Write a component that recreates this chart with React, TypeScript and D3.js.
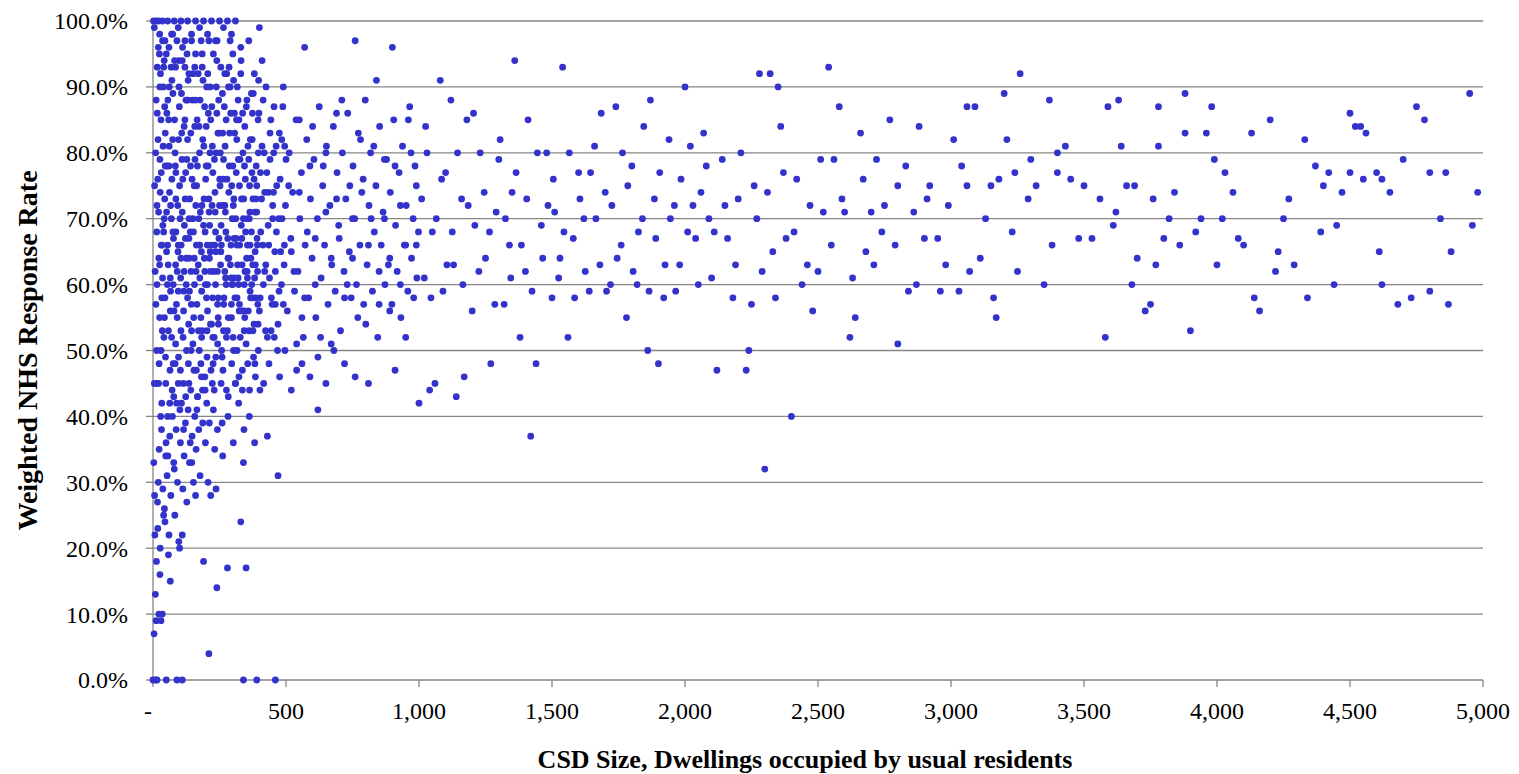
import * as d3 from "d3";

// x = dwellings, y = response rate (%)
const sparsePoints = `4130,83 4200,85 4270,73 4330,82 4370,78 4400,75 4420,77 4450,69 4500,86 4520,84 4540,84 4560,83 4600,77 4620,76 4700,79 4750,87 4780,85 4800,77 4860,77 4950,89 4980,74 4960,69 4880,65 4870,57 4800,59 4730,58 4680,57 4620,60 4610,65 4550,76 4500,77 4440,60 4390,68 4340,58 4290,63 4230,65 4220,62 4160,56 4140,58 4100,66 4080,67 4060,74 4020,70 4000,63 3990,79 3980,87 3960,83 3940,70 3900,53 3880,83 3880,89 3860,66 3820,70 3800,67 3780,81 3780,87 3760,73 3750,57 3730,56 3700,64 3680,60 3660,75 3640,81 3630,88 3620,71 3590,87 3580,52 3560,73 3500,75 3480,67 3430,81 3400,80 3400,77 3380,66 3370,88 3320,75 3300,79 3260,92 3250,62 3240,77 3210,82 3200,89 3180,76 3170,55 3160,58 3130,70 3110,64 3090,87 3060,87 3060,75 3040,78 3030,59 3010,82 2980,63 2960,59 2920,75 2900,67 2880,84 2860,71 2840,59 2800,51 2800,75 2770,85 2740,68 2720,79 2700,71 2680,65 2660,83 2640,55 2620,52 2600,71 2580,87 2560,79 2540,93 2520,71 2500,62 2480,56 2460,63 2420,76 2400,40 2380,67 2360,84 2350,90 2340,58 2320,92 2300,32 2290,62 2280,92 2260,75 2240,50 2230,47 2200,73 2180,58 2160,67 2140,79 2120,47 2100,61 2090,70 2080,78 2060,74 2040,67 2020,81 2000,90 1980,63 1960,72 1940,82 1920,58 1900,48 1890,67 1870,88 1860,50 1840,70 1820,60 1800,78 1780,55 1760,66 1740,87 1720,60 1700,74 1680,63 1660,81 1640,59 1620,70 1600,77 1580,67 1560,52 1540,93 1530,64 1510,71 1500,58 1480,80 1460,69 1440,48 1420,37 1410,85 1400,62 1380,52 1360,94 1350,74 1340,66 1320,57 1300,79 1290,71 1270,48 1250,64 1230,80 1210,69 1200,56 1180,85 1170,46 1160,73 1140,43 1130,63 1120,88 1100,77 1090,59 1080,91 1060,45 1050,68 1040,44 1030,80 1020,61 1000,42 990,75 980,58 960,85 950,66 930,72 910,47 900,96 890,56 870,79 850,62 840,91 820,70 810,45 800,54 780,82 760,97 750,64 740,75 720,58 700,67 690,86 670,51 650,71 640,78 620,41 610,60 600,84 580,68 570,96 560,55 550,74 540,47 520,65 500,79 490,90 470,31 460,57 450,70 440,83 430,37 420,62 410,94 400,99 390,75 380,54 370,68 350,17 340,33 330,24 320,88 310,45 300,60 290,97 280,17 270,72 260,39 250,83 240,14 230,52 220,66 210,4 200,78 190,18 180,48 170,92 160,28 150,70 140,36 130,58 120,85 110,22 100,75 95,45 90,97 85,63 80,32 75,89 70,52 65,15 60,78 55,40 50,95 45,24 40,68 35,10 30,85 25,55 20,30 15,72 10,100 5,45`;

const densePoints = `12,88 18,76 22,64 28,92 33,58 38,81 42,70 47,49 52,86 57,63 62,74 68,93 72,44 77,67 83,80 88,57 93,72 98,90 104,61 108,83 113,52 118,69 123,77 128,95 133,48 138,73 143,62 148,88 153,55 158,79 163,66 168,43 173,84 178,71 183,59 188,91 193,64 198,76 203,53 208,86 213,69 218,47 223,81 228,62 233,74 238,90 243,57 248,67 253,80 258,50 263,72 268,87 273,61 278,76 283,55 288,83 293,66 298,70 303,91 308,58 313,77 318,63 323,85 328,52 333,73 338,80 343,60 348,68 353,88 358,56 363,75 368,64 373,82 378,49 383,71 388,78 393,62 398,86 403,58 408,73 413,66 418,80 423,53 428,77 433,69 438,61 443,85 448,57 453,74 458,65 463,81 468,50 473,70 478,76 483,60 488,87 493,63 498,72 505,56 512,80 518,67 525,74 532,59 538,85 545,62 552,70 558,77 565,52 572,66 578,82 585,58 592,73 598,64 605,79 612,55 618,70 625,87 632,61 638,75 645,66 652,81 658,57 665,72 672,63 678,84 685,59 692,77 698,69 705,53 712,80 718,62 725,73 732,86 738,65 745,58 752,78 758,70 765,60 772,83 778,66 785,74 792,57 798,88 805,63 812,72 818,80 825,59 832,68 838,75 845,52 852,84 858,66 865,71 872,60 878,79 885,63 892,74 898,57 905,85 912,69 918,62 925,77 932,55 938,81 945,66 952,72 958,59 965,87 972,64 978,70 985,78 992,61 998,68 8,62 14,50 19,82 24,95 29,40 34,66 39,90 44,73 49,36 54,60 59,85 64,47 69,70 74,98 79,56 84,78 89,42 94,65 99,87 105,53 110,71 115,38 120,93 125,64 130,82 135,45 140,68 145,97 150,51 155,75 160,88 165,41 170,63 175,80 180,55 185,95 190,69 195,46 200,84 205,60 210,73 215,90 220,54 225,77 230,44 235,68 240,86 245,58 250,72 255,93 260,49 265,79 270,62 275,85 280,53 285,74 290,90 295,57 300,78 305,67 310,45 315,82 320,61 325,75 330,92 335,56 340,70 345,84 350,51 355,66 360,79 365,59 370,89 375,63 380,76 385,46 390,71 395,85 400,56 405,68 410,81 415,60 420,74 425,90 430,52 435,66 440,79 445,58 450,72 455,87 460,62 465,75 470,54 475,83 480,65 485,70 490,57 495,81 6,75 11,57 16,93 21,45 26,79 31,66 36,97 41,52 46,83 51,71 56,34 61,90 66,59 71,76 76,48 81,94 86,68 91,55 96,82 101,41 106,66 111,96 116,59 121,73 126,50 131,88 136,64 141,78 146,33 151,92 156,60 161,72 166,85 171,53 176,66 181,97 186,44 191,81 196,68 201,58 206,92 211,71 216,62 221,87 226,48 231,79 236,65 241,97 246,54 251,76 256,69 261,89 266,57 271,81 276,44 281,67 286,93 291,63 296,75 301,52 306,86 311,70 316,58 321,79 326,66 331,94 336,47 341,73 346,62 351,87 356,70 361,53 366,82 371,60 376,73 381,92 386,58 391,67 396,80 3,33 7,22 13,18 17,27 23,35 27,20 32,38 37,29 43,26 48,34 53,31 58,19 63,37 67,28 73,40 78,33 82,25 87,38 92,30 97,21 103,36 107,42 112,29 117,34 122,39 127,27 132,41 137,33 142,44 147,37 152,30 157,40 162,35 167,43 172,38 177,31 182,46 187,39 197,36 202,42 207,30 212,39 217,28 227,41 232,35 237,29 242,38 262,34 282,40 302,36 322,42 342,38 362,40 382,36 402,44 2,100 20,100 35,100 55,100 80,100 105,100 130,100 160,100 190,100 220,100 250,100 280,100 310,100 5,99 25,98 45,97 70,98 95,99 120,97 145,98 175,99 205,98 235,97 265,99 295,98 0,0 10,0 15,0 50,0 90,0 110,0 340,0 390,0 460,0 4,7 9,13 12,9 22,10 30,9 6,28 18,23 26,16 40,25 60,22 100,20`;

const extraPoints = `14,68 27,74 36,61 44,87 53,78 65,56 74,82 86,73 95,66 109,79 117,62 124,88 136,70 144,57 157,84 164,75 176,61 184,72 194,87 204,66 214,80 224,58 234,71 244,83 254,63 264,76 274,68 284,90 294,61 304,73 314,85 324,56 334,67 344,78 354,62 364,71 374,86 384,65 394,57 404,77 414,88 424,63 434,74 444,53 454,80 464,68 474,59 484,82 494,66 510,75 530,62 550,85 570,58 590,78 610,67 630,52 650,80 670,64 690,73 710,88 730,60 750,70 770,55 790,76 810,66 830,81 850,57 870,70 890,64 910,78 930,60 950,52 970,80 990,66 1010,73 1025,84 1045,58 1065,70 1085,76 1105,63 1125,68 1145,80 1165,60 1185,72 1205,86 1225,62 1245,74 1265,68 1285,57 1305,82 1325,70 1345,61 1365,77 1385,66 1405,73 1425,59 1445,80 1465,64 1485,72 1505,76 1525,61 1545,68 1565,80 1585,58 1605,73 1625,62 1645,77 1665,70 1685,86 1705,59 1725,72 1745,64 1765,80 1785,75 1805,62 1825,68 1845,84 1865,59 1885,73 1905,77 1925,63 1945,70 1965,59 1985,76 2010,68 2030,72 2050,60 2070,83 2110,68 2150,72 2190,63 2210,80 2250,57 2270,70 2310,74 2330,65 2370,77 2410,68 2440,60 2470,72 2510,79 2550,66 2590,73 2630,61 2670,76 2710,63 2750,72 2790,66 2830,78 2870,60 2910,73 2950,67 2990,72 3070,62 3150,75 3230,68 3290,73 3350,60 3450,76 3530,67 3610,69 3690,75 3770,63 3840,74 3920,68 4030,77 4250,70 4470,74 4650,74 4840,70 30,50 48,45 58,53 78,43 96,49 114,45 134,54 154,47 174,50 196,44 216,54 236,49 256,45 276,52 296,48 316,50 336,44 356,48 376,53 396,50 416,45 436,48 456,52 476,46 496,50 520,44 540,51 560,48 590,46 620,49 650,45 680,50 720,48 760,46`;

const corePoints = `10,80 16,86 21,71 26,90 31,77 37,69 42,94 46,78 51,65 56,88 61,81 66,72 71,91 76,60 81,85 86,77 91,62 97,94 102,70 107,89 112,76 117,84 122,67 127,79 132,91 137,59 142,83 147,76 152,68 157,93 162,62 167,78 172,70 177,88 182,65 187,82 192,73 197,60 202,90 207,78 212,64 217,85 222,72 227,95 232,66 237,80 242,62 247,88 252,75 257,66 262,83 267,58 272,71 277,92 282,64 287,78 292,86 297,60 302,72 307,83 312,67 317,90 322,60 327,79 332,69 337,86 342,56 347,76 352,64 357,81 362,70 367,58 372,77 377,89 382,61 387,73 392,66 397,91 15,60 25,63 35,53 45,58 55,66 65,61 75,68 85,51 95,59 105,64 115,56 125,60 135,67 145,53 155,64 165,57 175,66 185,53 195,62 205,56 215,65 225,52 235,60 245,55 255,65 265,53 275,60 285,64 295,55 305,61 315,66 325,57 335,63 345,55 355,61 365,66 375,58 385,63 395,54 13,45 23,48 33,42 43,55 63,42 83,48 103,47 123,43 143,50 163,47 183,52 203,49 223,45 243,51 263,47 283,43 303,50 323,46 343,53 363,44 383,48 20,96 40,93 60,96 85,93 110,94 135,92 160,95 185,93 210,97 240,94 270,92 300,95 330,96 360,97`;

function parse(s: string) {
  return s.trim().split(/\s+/).map((p) => {
    const [x, y] = p.split(",").map(Number);
    return { x, y: y / 100 };
  });
}

const points = [...parse(sparsePoints), ...parse(densePoints), ...parse(extraPoints), ...parse(corePoints)];
const xTicks = [0, 500, 1000, 1500, 2000, 2500, 3000, 3500, 4000, 4500, 5000];
const yTicks = d3.range(0, 11).map((i) => i / 10);

export default function App() {
  const width = 1519;
  const height = 774;
  const left = 153, right = 1483, top = 21, bottom = 680;
  const x = d3.scaleLinear().domain([0, 5000]).range([left, right]);
  const y = d3.scaleLinear().domain([0, 1]).range([bottom, top]);
  const font = "'Times New Roman', 'Liberation Serif', serif";
  const xFmt = (v: number) => (v === 0 ? "-" : d3.format(",")(v));
  const grey = "#868686";

  return (
    <svg width={width} height={height} style={{ position: "absolute", left: 0, top: 0 }} fontFamily={font}>
      {yTicks.map((t) => (
        <g key={t}>
          {t > 0 && <line x1={left} x2={right} y1={y(t)} y2={y(t)} stroke={grey} strokeWidth={1.3} />}
          <line x1={left - 7} x2={left} y1={y(t)} y2={y(t)} stroke={grey} strokeWidth={1.3} />
          <text x={left - 25} y={y(t)} dy="0.35em" textAnchor="end" fontSize={24}>
            {d3.format(".1%")(t)}
          </text>
        </g>
      ))}
      <line x1={left} x2={left} y1={top} y2={bottom} stroke={grey} strokeWidth={1.3} />
      <line x1={left} x2={right} y1={bottom} y2={bottom} stroke={grey} strokeWidth={1.3} />
      {xTicks.map((t) => (
        <g key={t}>
          <line x1={x(t)} x2={x(t)} y1={bottom} y2={bottom + 7} stroke={grey} strokeWidth={1.3} />
          <text x={t === 0 ? x(t) - 5 : x(t)} y={719} textAnchor="middle" fontSize={24}>
            {xFmt(t)}
          </text>
        </g>
      ))}
      {points.map((p, i) => (
        <circle key={i} cx={x(p.x)} cy={y(p.y)} r={3.4} fill="#3333CC" />
      ))}
      <text x={805} y={768} textAnchor="middle" fontSize={26} fontWeight="bold">
        CSD Size, Dwellings occupied by usual residents
      </text>
      <text transform={`translate(27,${(top + bottom) / 2}) rotate(-90)`} dy="0.35em" textAnchor="middle" fontSize={28} fontWeight="bold">
        Weighted NHS Response Rate
      </text>
    </svg>
  );
}
